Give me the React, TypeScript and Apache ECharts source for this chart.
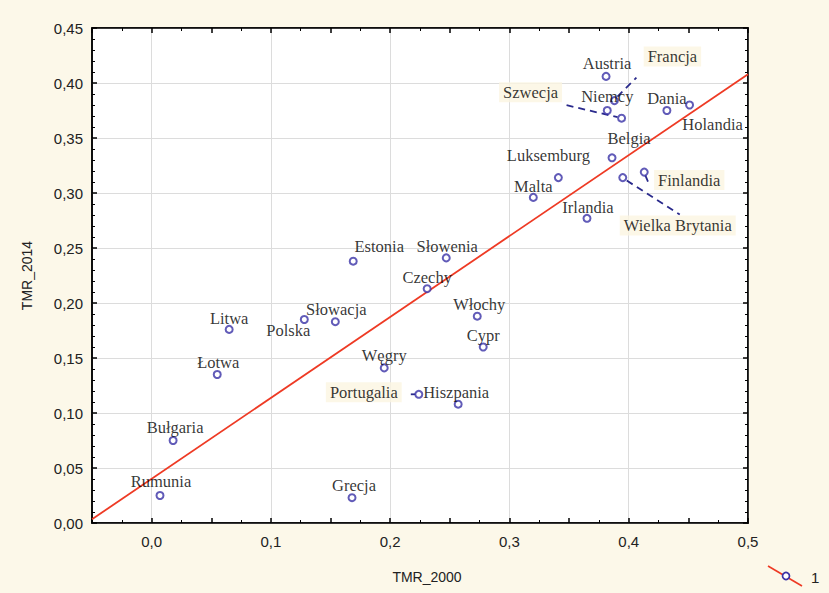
import { useEffect, useRef } from 'react';
import * as echarts from 'echarts';

const countries = [
  'Austria', 'Francja', 'Niemcy', 'Szwecja', 'Dania', 'Holandia', 'Belgia', 'Finlandia',
  'Wielka Brytania', 'Luksemburg', 'Malta', 'Irlandia', 'Estonia', 'Słowenia', 'Czechy',
  'Włochy', 'Cypr', 'Słowacja', 'Polska', 'Litwa', 'Łotwa', 'Węgry', 'Portugalia',
  'Hiszpania', 'Bułgaria', 'Rumunia', 'Grecja',
];
const tmr2000 = [
  0.381, 0.388, 0.382, 0.394, 0.432, 0.451, 0.386, 0.413,
  0.395, 0.341, 0.320, 0.365, 0.169, 0.247, 0.231,
  0.273, 0.278, 0.154, 0.128, 0.065, 0.055, 0.195, 0.224,
  0.257, 0.018, 0.007, 0.168,
];
const tmr2014 = [
  0.406, 0.384, 0.375, 0.368, 0.375, 0.380, 0.332, 0.319,
  0.314, 0.314, 0.296, 0.277, 0.238, 0.241, 0.213,
  0.188, 0.160, 0.183, 0.185, 0.176, 0.135, 0.141, 0.117,
  0.108, 0.075, 0.025, 0.023,
];
const fitLineX = [-0.05, 0.5];
const fitLineY = [0.0034, 0.408];
const legendLabels = ['1'];
const calloutCountries = ['Francja', 'Szwecja', 'Finlandia', 'Wielka Brytania', 'Portugalia'];

// label placement (pixels, label centre relative to point)
const labelOffsets: [number, number][] = [
  [1, -13], [58, -44], [0, -14], [-91, -26], [0, -12], [23, 19], [17, -19], [45, 8],
  [55, 48], [-10, -22], [0, -11], [1, -11], [26, -15], [1, -11], [0, -11],
  [2, -12], [0, -12], [1, -12], [-16, 11], [0, -11], [1, -12], [0, -12], [-55, -2],
  [-2, -12], [2, -13], [1, -14], [2, -12],
];
// leader line ends (pixels relative to point), for callout countries in order
const leaderEnds: [number, number, number, number][] = [
  [3, -4, 22, -23],
  [-55, -13, -4, -1],
  [1, 3, 4, 10],
  [4, 3, 57, 37],
  [-8, 0, -3, 0],
];

const CREAM = '#fcf8e9';
const LABEL_BG = '#fbf5e1';
const BLUE = '#3a32a6';
const RED = '#ee3a24';

const fmtY = (v: number) => v.toFixed(2).replace('.', ',');
const fmtX = (v: number) => {
  const h = Math.round(v * 100);
  if (h % 10 !== 0) return '';
  return (h / 100).toFixed(1).replace('.', ',');
};

export default function App() {
  const ref = useRef<HTMLDivElement>(null);
  useEffect(() => {
    if (!ref.current) return;
    const chart = echarts.init(ref.current, undefined, { renderer: 'svg' });
    const axisFont = { fontFamily: 'Liberation Sans', fontSize: 15, color: '#222' };
    const nameFont = { fontFamily: 'Liberation Sans', fontSize: 14, color: '#222' };
    const tickCommon = {
      axisLine: { show: true, onZero: false, lineStyle: { color: '#000', width: 1.5 } },
      axisTick: { show: true, inside: true, length: 5, lineStyle: { color: '#000', width: 1.5 } },
      minorTick: { show: true, length: 3, lineStyle: { color: '#000', width: 1 } },
    };
    const leaderData = calloutCountries.map((name, k) => {
      const i = countries.indexOf(name);
      return [tmr2000[i], tmr2014[i], k];
    });
    chart.setOption({
      animation: false,
      backgroundColor: CREAM,
      grid: {
        left: 92, right: 81, top: 28, bottom: 70,
        show: true, backgroundColor: '#fff', borderColor: '#000', borderWidth: 1.5,
      },
      xAxis: [
        {
          type: 'value', min: -0.05, max: 0.5, interval: 0.05,
          ...tickCommon,
          minorTick: { ...tickCommon.minorTick, splitNumber: 2 },
          axisLabel: { ...axisFont, margin: 11, formatter: fmtX, showMinLabel: true, showMaxLabel: true },
          splitLine: { show: true, lineStyle: { color: ['rgba(0,0,0,0)', '#dcdcdc'], width: 1 } },
          name: 'TMR_2000', nameLocation: 'middle', nameGap: 47,
          nameTextStyle: { ...nameFont, padding: [0, 0, 0, 14] },
        },
        {
          type: 'value', min: -0.05, max: 0.5, interval: 0.05, position: 'top',
          ...tickCommon,
          minorTick: { ...tickCommon.minorTick, splitNumber: 2 },
          axisLabel: { show: false },
          splitLine: { show: false },
        },
      ],
      yAxis: [
        {
          type: 'value', min: 0, max: 0.45, interval: 0.05,
          ...tickCommon,
          minorTick: { ...tickCommon.minorTick, splitNumber: 5 },
          axisLabel: { ...axisFont, margin: 9, formatter: fmtY },
          splitLine: { show: true, lineStyle: { color: '#dcdcdc', width: 1 } },
          name: 'TMR_2014', nameLocation: 'middle', nameGap: 58,
          nameTextStyle: nameFont,
        },
        {
          type: 'value', min: 0, max: 0.45, interval: 0.05, position: 'right',
          ...tickCommon,
          minorTick: { ...tickCommon.minorTick, splitNumber: 5 },
          axisLabel: { show: false },
          splitLine: { show: false },
        },
      ],
      series: [
        {
          type: 'line',
          name: legendLabels[0],
          data: fitLineX.map((x, i) => [x, fitLineY[i]]),
          symbol: 'none',
          lineStyle: { color: RED, width: 1.8 },
          z: 2,
          silent: true,
        },
        {
          type: 'custom',
          z: 3,
          silent: true,
          data: leaderData,
          renderItem: (_params: any, api: any) => {
            const c = api.coord([api.value(0), api.value(1)]);
            const e = leaderEnds[api.value(2)];
            return {
              type: 'line',
              shape: { x1: c[0] + e[0], y1: c[1] + e[1], x2: c[0] + e[2], y2: c[1] + e[3] },
              style: { stroke: '#2a2a8c', lineWidth: 1.8, lineDash: [7, 5] },
            };
          },
        },
        {
          type: 'scatter',
          name: legendLabels[0],
          symbol: 'emptyCircle',
          symbolSize: 7,
          itemStyle: { color: BLUE, borderColor: BLUE, borderWidth: 1.7 },
          z: 4,
          label: {
            show: true,
            position: 'inside',
            formatter: '{b}',
            fontFamily: 'Liberation Serif',
            fontSize: 16.5,
            color: '#000',
          },
          labelLayout: (p: any) => {
            const o = labelOffsets[p.dataIndex] || [0, -12];
            return { dx: o[0], dy: o[1] };
          },
          data: countries.map((name, i) => {
            const callout = calloutCountries.includes(name);
            return {
              name,
              value: [tmr2000[i], tmr2014[i]],
              label: callout ? { backgroundColor: LABEL_BG, padding: [2, 4, 1, 4] } : undefined,
            };
          }),
        },
      ],
      graphic: [
        { type: 'line', shape: { x1: 768, y1: 566, x2: 802, y2: 586 }, style: { stroke: RED, lineWidth: 1.6 } },
        { type: 'circle', shape: { cx: 786, cy: 576, r: 3.5 }, style: { fill: '#fff', stroke: BLUE, lineWidth: 1.7 } },
        {
          type: 'text', x: 811, y: 577,
          style: { text: legendLabels[0], fontFamily: 'Liberation Sans', fontSize: 15, fill: '#222', verticalAlign: 'middle' },
        },
      ],
    });
    return () => chart.dispose();
  }, []);
  return <div ref={ref} style={{ position: 'fixed', left: 0, top: 0, width: 829, height: 593 }} />;
}
